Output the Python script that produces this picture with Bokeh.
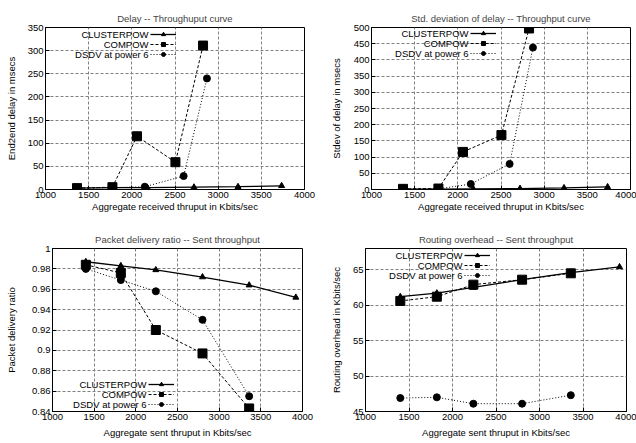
from bokeh.plotting import figure
from bokeh.layouts import column, row
from bokeh.models import FixedTicker, CustomJSTickFormatter, Range1d, Legend, LegendItem, Label
from bokeh.embed import file_html
from bokeh.resources import INLINE

# ---------------- data ----------------
series_names = ["CLUSTERPOW", "COMPOW", "DSDV at power 6"]

clusterpow_recv = [1380, 1790, 2180, 2720, 3230, 3735]
compow_recv = [1365, 1775, 2060, 2505, 2825]
dsdv_recv = [1380, 1780, 2150, 2600, 2870]

clusterpow_delay = [3, 4, 4, 5, 6, 8]
compow_delay = [3, 5, 115, 59, 311]
dsdv_delay = [3, 4, 6, 29, 240]

clusterpow_std = [1, 1, 2, 3, 5, 8]
compow_std = [2, 3, 116, 168, 497]
dsdv_std = [1, 2, 17, 79, 438]

clusterpow_sent = [1400, 1820, 2240, 2800, 3360, 3920]
compow_sent = [1400, 1820, 2240, 2800, 3360]
dsdv_sent = [1400, 1820, 2240, 2800, 3360]

clusterpow_pdr = [0.987, 0.983, 0.979, 0.972, 0.964, 0.952]
compow_pdr = [0.984, 0.976, 0.920, 0.897, 0.843]
dsdv_pdr = [0.980, 0.969, 0.958, 0.930, 0.855]

clusterpow_ovh = [61.2, 61.7, 62.5, 63.6, 64.6, 65.4]
compow_ovh = [60.6, 61.2, 62.9, 63.6, 64.5]
dsdv_ovh = [46.9, 47.0, 46.1, 46.1, 47.3]

x_ticks = [1000, 1500, 2000, 2500, 3000, 3500, 4000]
delay_ticks = [0, 50, 100, 150, 200, 250, 300, 350]
std_ticks = [0, 50, 100, 150, 200, 250, 300, 350, 400, 450, 500]
pdr_ticks = [0.84, 0.86, 0.88, 0.9, 0.92, 0.94, 0.96, 0.98, 1.0]
ovh_ticks = [45, 50, 55, 60, 65]

FONT = "Liberation Sans"
FS = "9.5px"
ROW = 10  # legend row pitch in px


def make_fig(title, xlabel, ylabel, yr, yticks, w, h, borders, ylab_standoff, xlab_standoff):
    left, right, top, bottom = borders
    p = figure(width=w, height=h, output_backend="svg", toolbar_location=None,
               x_range=Range1d(1000, 4000), y_range=Range1d(*yr),
               min_border_left=left, min_border_right=right,
               min_border_top=top, min_border_bottom=bottom)
    p.title.text = title
    p.title.align = "center"
    p.title.text_font = FONT
    p.title.text_font_size = FS
    p.title.text_font_style = "normal"
    p.title.offset = 0
    p.title.standoff = 8
    p.outline_line_color = "black"
    p.outline_line_width = 1
    p.background_fill_color = None
    p.border_fill_color = None
    for ax, ticks in ((p.xaxis[0], x_ticks), (p.yaxis[0], yticks)):
        ax.ticker = FixedTicker(ticks=ticks)
        ax.formatter = CustomJSTickFormatter(code="return String(Number(tick.toFixed(4)));")
        ax.major_tick_in = 4
        ax.major_tick_out = 0
        ax.minor_tick_line_color = None
        ax.axis_line_color = "black"
        ax.major_label_text_font = FONT
        ax.major_label_text_font_size = FS
        ax.major_label_text_color = "black"
        ax.axis_label_text_font = FONT
        ax.axis_label_text_font_size = FS
        ax.axis_label_text_font_style = "normal"
        ax.axis_label_text_color = "black"
        ax.major_label_standoff = 2
    p.xaxis.axis_label_standoff = xlab_standoff
    p.yaxis.axis_label_standoff = ylab_standoff
    p.xaxis.axis_label = xlabel
    p.yaxis.axis_label = ylabel
    p.xgrid.ticker = FixedTicker(ticks=x_ticks)
    p.ygrid.ticker = FixedTicker(ticks=yticks)
    for g in (p.xgrid[0], p.ygrid[0]):
        g.grid_line_color = "#808080"
        g.grid_line_dash = "3 2"
        g.grid_line_width = 1
        g.grid_line_alpha = 1.0
    return p


def add_series(p, xs, ys, glyph_x, top_y):
    """glyph_x: px from frame left where legend samples start; top_y: px from frame bottom of legend top."""
    r1 = p.line(xs[0], ys[0], line_color="black", line_width=1.3)
    m1 = p.scatter(xs[0], ys[0], marker="triangle", size=6, color="black")
    r2 = p.line(xs[1], ys[1], line_color="black", line_width=1, line_dash="3 2")
    m2 = p.scatter(xs[1], ys[1], marker="square", size=9, color="black")
    r3 = p.line(xs[2], ys[2], line_color="black", line_width=1, line_dash="1 2")
    m3 = p.scatter(xs[2], ys[2], marker="circle", size=7, color="black")
    items = [LegendItem(label=" ", renderers=[r1, m1]),
             LegendItem(label=" ", renderers=[r2, m2]),
             LegendItem(label=" ", renderers=[r3, m3])]
    leg = Legend(items=items, location=(glyph_x, top_y - 3 * ROW))
    leg.background_fill_alpha = 0
    leg.border_line_color = None
    leg.label_text_font_size = "1px"
    leg.label_height = ROW
    leg.label_width = 0
    leg.glyph_height = ROW
    leg.glyph_width = 26
    leg.spacing = 0
    leg.padding = 0
    leg.margin = 0
    leg.label_standoff = 0
    p.add_layout(leg)
    for i, name in enumerate(series_names):
        lab = Label(x=glyph_x - 2, y=top_y - ROW * i - ROW / 2, x_units="screen", y_units="screen",
                    text=name, text_align="right", text_baseline="middle",
                    text_font=FONT, text_font_size=FS, text_color="black")
        p.add_layout(lab)


p1 = make_fig("Delay -- Throughuput curve", "Aggregate received thruput in Kbits/sec",
              "End2end delay in msecs", (0, 350), delay_ticks, 318, 215, (45, 14, 27, 26), 8, 0)
add_series(p1, [clusterpow_recv, compow_recv, dsdv_recv],
           [clusterpow_delay, compow_delay, dsdv_delay], 105, 160)

p2 = make_fig("Std. deviation of delay -- Throughput curve", "Aggregate received thruput in Kbits/sec",
              "Stdev of delay in msecs", (0, 500), std_ticks, 318, 215, (53, 6, 27, 26), 9, 0)
add_series(p2, [clusterpow_recv, compow_recv, dsdv_recv],
           [clusterpow_std, compow_std, dsdv_std], 99, 161)

p3 = make_fig("Packet delivery ratio -- Sent throughput", "Aggregate sent thruput in Kbits/sec",
              "Packet delivery ratio", (0.84, 1.0), pdr_ticks, 318, 228, (52, 16, 33, 32), 12, 4)
add_series(p3, [clusterpow_sent, compow_sent, dsdv_sent],
           [clusterpow_pdr, compow_pdr, dsdv_pdr], 96, 32)

p4 = make_fig("Routing overhead -- Sent throughput", "Aggregate sent thruput in Kbits/sec",
              "Routing overhead in Kbits/sec", (45, 68), ovh_ticks, 318, 228, (47, 10, 33, 32), 8, 4)
add_series(p4, [clusterpow_sent, compow_sent, dsdv_sent],
           [clusterpow_ovh, compow_ovh, dsdv_ovh], 99, 161)

layout = column(row(p1, p2), row(p3, p4))

open("out.html", "w").write(file_html(layout, INLINE))
